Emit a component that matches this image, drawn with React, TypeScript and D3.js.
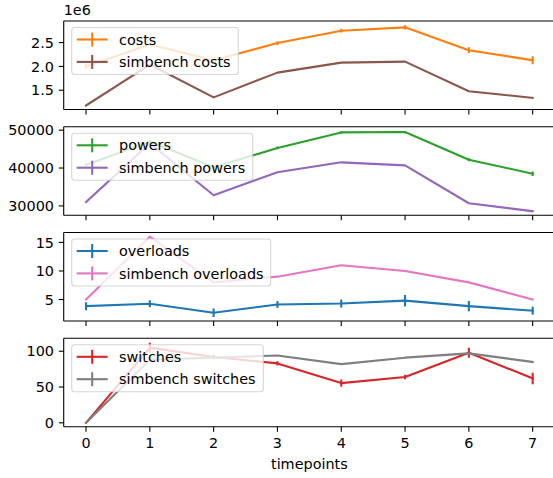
import React from "react";
import * as d3 from "d3";

const timepoints = [0, 1, 2, 3, 4, 5, 6, 7];

const costs = [2.0e6, 2.46e6, 2.13e6, 2.49e6, 2.75e6, 2.82e6, 2.34e6, 2.13e6];
const costsErr = [0.05e6, 0.03e6, 0.03e6, 0.04e6, 0.04e6, 0.045e6, 0.06e6, 0.085e6];
const simCosts = [1.18e6, 2.04e6, 1.35e6, 1.87e6, 2.08e6, 2.1e6, 1.48e6, 1.34e6];

const powers = [40800, 47000, 40200, 45300, 49400, 49500, 42200, 38500];
const powersErr = [300, 300, 300, 350, 300, 300, 400, 600];
const simPowers = [31000, 46500, 32800, 38900, 41500, 40700, 30700, 28600];

const overloads = [3.84, 4.25, 2.69, 4.13, 4.3, 4.8, 3.84, 3.04];
const overloadsErr = [0.7, 0.6, 0.75, 0.6, 0.7, 1.0, 0.9, 0.7];
const simOverloads = [5, 16, 8, 9, 11, 10, 8, 5];

const switches = [0, 105, 92, 83, 55.5, 64, 98, 62];
const switchesErr = [0, 7, 3, 3, 5, 3, 7, 8];
const simSwitches = [0, 88, 91, 94, 82, 91, 97, 85];

const xTicks = [0, 1, 2, 3, 4, 5, 6, 7];

const panels = [
  {
    a: { name: "costs", values: costs, err: costsErr, color: "#ff7f0e" },
    b: { name: "simbench costs", values: simCosts, color: "#8c564b" },
    domain: [1.096e6, 2.953e6],
    ticks: [1.5e6, 2.0e6, 2.5e6],
    fmt: (v: number) => (v / 1e6).toFixed(1),
    legendW: 166.6,
  },
  {
    a: { name: "powers", values: powers, err: powersErr, color: "#2ca02c" },
    b: { name: "simbench powers", values: simPowers, color: "#9467bd" },
    domain: [27520, 50880],
    ticks: [30000, 40000, 50000],
    fmt: (v: number) => String(v),
    legendW: 181,
  },
  {
    a: { name: "overloads", values: overloads, err: overloadsErr, color: "#1f77b4" },
    b: { name: "simbench overloads", values: simOverloads, color: "#e377c2" },
    domain: [1.24, 16.73],
    ticks: [5, 10, 15],
    fmt: (v: number) => String(v),
    legendW: 199,
  },
  {
    a: { name: "switches", values: switches, err: switchesErr, color: "#d62728" },
    b: { name: "simbench switches", values: simSwitches, color: "#7f7f7f" },
    domain: [-5.56, 118.06],
    ticks: [0, 50, 100],
    fmt: (v: number) => String(v),
    legendW: 191.6,
  },
];

const W = 553;
const H = 478;
const left = 63.7;
const right = 555;
const tops = [21, 126.8, 232.5, 338.3];
const ph = 88.5;
const font = "DejaVu Sans, sans-serif";
const fs = 14.4;

export default function App() {
  const x = d3.scaleLinear().domain([-0.35, 7.35]).range([left, right]);
  return (
    <svg width={W} height={H} style={{ position: "absolute", left: 0, top: 0, background: "#fff" }}>
      <rect width={W} height={H} fill="#fff" />
      {panels.map((p, i) => {
        const top = tops[i];
        const bottom = top + ph;
        const y = d3.scaleLinear().domain(p.domain).range([bottom, top]);
        const line = d3
          .line<number>()
          .x((_, j) => x(timepoints[j]))
          .y((d) => y(d));
        const lx = 71.7;
        const ly = top + 6.5;
        const series = [p.a, p.b];
        return (
          <g key={i}>
            <defs>
              <clipPath id={`clip${i}`}>
                <rect x={left} y={top} width={right - left} height={ph} />
              </clipPath>
            </defs>
            <g clipPath={`url(#clip${i})`}>
              {series.map((s: any, k) => (
                <g key={k}>
                  <path d={line(s.values) || ""} fill="none" stroke={s.color} strokeWidth={2.1} strokeLinejoin="round" strokeLinecap="square" />
                  {s.values.map((v: number, j: number) => {
                    const e = s.err ? s.err[j] : 0;
                    return (
                      <line key={j} x1={x(timepoints[j])} x2={x(timepoints[j])} y1={y(v - e)} y2={y(v + e)} stroke={s.color} strokeWidth={2.1} />
                    );
                  })}
                </g>
              ))}
            </g>
            {/* spines */}
            <line x1={left} x2={right} y1={top} y2={top} stroke="#000" strokeWidth={1.1} />
            <line x1={left} x2={right} y1={bottom} y2={bottom} stroke="#000" strokeWidth={1.1} />
            <line x1={left} x2={left} y1={top} y2={bottom} stroke="#000" strokeWidth={1.1} />
            {/* x ticks */}
            {xTicks.map((t) => (
              <line key={t} x1={x(t)} x2={x(t)} y1={bottom} y2={bottom + 4.9} stroke="#000" strokeWidth={1.1} />
            ))}
            {/* y ticks */}
            {p.ticks.map((t) => (
              <g key={t}>
                <line x1={left - 4.9} x2={left} y1={y(t)} y2={y(t)} stroke="#000" strokeWidth={1.1} />
                <text x={left - 9.7} y={y(t)} dy="0.36em" textAnchor="end" fontFamily={font} fontSize={fs} fill="#000">
                  {p.fmt(t)}
                </text>
              </g>
            ))}
            {/* legend */}
            <rect x={lx} y={ly} width={p.legendW} height={47} rx={3} fill="#fff" fillOpacity={0.8} stroke="#cccccc" strokeOpacity={0.8} strokeWidth={1.1} />
            {series.map((s: any, k) => {
              const cy = ly + 12 + k * 22.4;
              return (
                <g key={k}>
                  <line x1={lx + 5} x2={lx + 36} y1={cy} y2={cy} stroke={s.color} strokeWidth={2.1} />
                  <line x1={lx + 20.5} x2={lx + 20.5} y1={cy - 7} y2={cy + 7} stroke={s.color} strokeWidth={2.1} />
                  <text x={lx + 47.3} y={cy} dy="0.36em" fontFamily={font} fontSize={fs} fill="#000">
                    {s.name}
                  </text>
                </g>
              );
            })}
            {i === 0 && (
              <text x={left} y={15} fontFamily={font} fontSize={fs} fill="#000">
                1e6
              </text>
            )}
            {i === 3 &&
              xTicks.map((t) => (
                <text key={t} x={x(t)} y={448.3} textAnchor="middle" fontFamily={font} fontSize={fs} fill="#000">
                  {t}
                </text>
              ))}
          </g>
        );
      })}
      <text x={(left + right) / 2} y={468.5} textAnchor="middle" fontFamily={font} fontSize={fs} fill="#000">
        timepoints
      </text>
    </svg>
  );
}
